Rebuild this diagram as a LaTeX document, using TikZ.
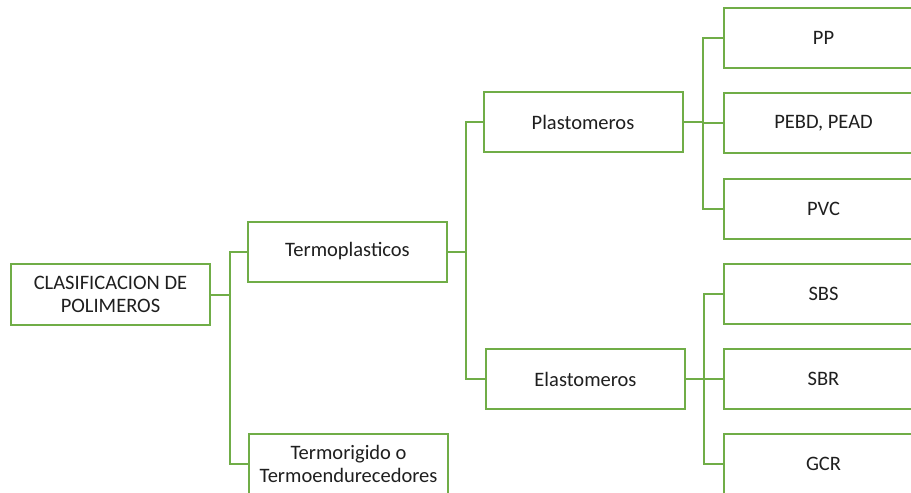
\documentclass[tikz,border=0pt]{standalone}
\usepackage{fontspec}
\setmainfont{Carlito}
\definecolor{boxgreen}{HTML}{70AD47}
\definecolor{ink}{HTML}{1F1F1F}
\begin{document}
\begin{tikzpicture}[x=1pt,y=-1pt,
  box/.style={draw=boxgreen, line width=2pt, fill=white, rectangle,
    minimum width=199pt, minimum height=60pt, inner sep=0pt,
    align=center, text=ink, font=\fontsize{20.5}{23}\selectfont},
  link/.style={draw=boxgreen, line width=2pt}]
  \clip (0,0) rectangle (911,493);
  \fill[white] (0,0) rectangle (911,493);

  % tree nodes
  \node[box, minimum height=61pt] (root) at (110.5,294.5) {CLASIFICACION DE\\POLIMEROS};
  \node[box] (tp)  at (347.5,251.5) {Termoplasticos};
  \node[box] (tr)  at (348.5,464)   {Termorigido o\\Termoendurecedores};
  \node[box] (pl)  at (583,122)     {Plastomeros};
  \node[box] (el)  at (585.5,379)   {Elastomeros};
  \node[box] (pp)  at (823.5,38)    {PP};
  \node[box] (pe)  at (823.5,123)   {PEBD, PEAD};
  \node[box] (pv)  at (823.5,209)   {PVC};
  \node[box] (sbs) at (823.5,294)   {SBS};
  \node[box] (sbr) at (823.5,379)   {SBR};
  \node[box] (gcr) at (823.5,464)   {GCR};

  % branching points
  \coordinate (j1) at (229.5,294.5);
  \coordinate (j2) at (466,251.5);
  \coordinate (j3) at (703,122);
  \coordinate (j4) at (704,379);

  % elbow connectors
  \draw[link] (root.east) -- (j1);
  \draw[link] (j1) |- (tp.west);
  \draw[link] (j1) |- (tr.west);

  \draw[link] (tp.east) -- (j2);
  \draw[link] (j2) |- (pl.west);
  \draw[link] (j2) |- (el.west);

  \draw[link] (pl.east) -- (j3);
  \draw[link] (j3) |- (pp.west);
  \draw[link] (j3) |- (pe.west);
  \draw[link] (j3) |- (pv.west);

  \draw[link] (el.east) -- (j4);
  \draw[link] (j4) |- (sbs.west);
  \draw[link] (j4) |- (sbr.west);
  \draw[link] (j4) |- (gcr.west);
\end{tikzpicture}
\end{document}
